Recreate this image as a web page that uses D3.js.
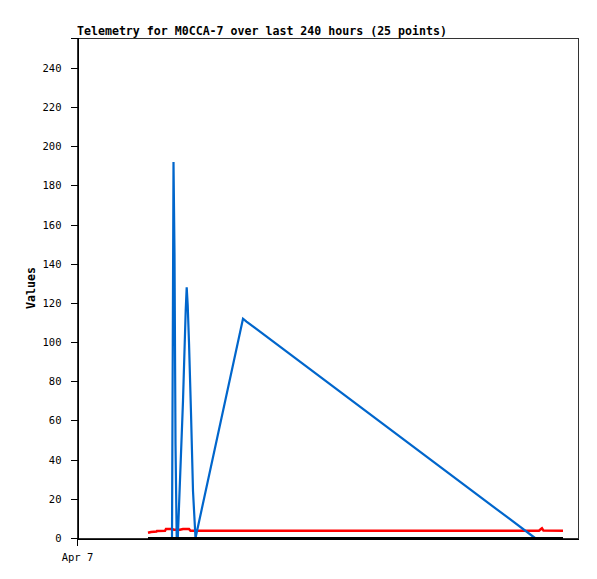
<!DOCTYPE html>
<html>
<head>
<meta charset="utf-8">
<script src="https://cdn.jsdelivr.net/npm/d3@7"></script>
<style>
  html, body { margin: 0; padding: 0; background: #fff; }
  svg { display: block; }
</style>
</head>
<body>
<svg id="chart" width="597" height="579"></svg>
<script>
// ---- data (x in hours since start of the 240-hour window) ----
const titleText = "Telemetry for M0CCA-7 over last 240 hours (25 points)";
const yLabel = "Values";
const xTickHours = [0];
const xTickLabels = ["Apr 7"];
const yTicks = [0, 20, 40, 60, 80, 100, 120, 140, 160, 180, 200, 220, 240];

const blueHours  = [45.51, 46.23, 46.71, 47.19, 47.76, 48.29, 50.78, 52.07, 52.55, 53.03, 53.65, 54.61, 55.57, 56.77, 79.52, 81.2, 219.4];
const blueValues = [0, 192, 145, 48, 0, 0, 70, 116, 128, 119, 100, 64, 24, 0, 112, 110.5, 0];

const redHours  = [34.01, 35.45, 38.08, 38.32, 42.16, 42.63, 45.51, 46.47, 49.34, 50.78, 53.65, 54.37, 221.32, 222.27, 222.75, 223.47, 232.81];
const redValues = [2.7, 3.1, 3.3, 3.6, 3.7, 4.6, 4.6, 4.2, 4.2, 4.6, 4.6, 3.7, 3.7, 4.6, 5.0, 3.8, 3.7];

const blackHours  = [34.01, 232.81];
const blackValues = [0, 0];

const xDomain = [0, 240];
const yMax = 255.3;

(function () {
// ---- layout ----
const mLeft = 77, mRight = 578, mTop = 38, mBottom = 538;
const svg = d3.select("#chart");
const mono = "'DejaVu Sans Mono', 'Liberation Mono', monospace";

const x = d3.scaleLinear().domain(xDomain).range([mLeft, mRight]);
const y = d3.scaleLinear().domain([0, yMax]).range([mBottom, mTop]);

// title
svg.append("text")
  .attr("x", mLeft).attr("y", 35)
  .attr("font-family", mono).attr("font-size", 11.6).attr("font-weight", "bold")
  .attr("fill", "#000")
  .text(titleText);

// y label
svg.append("text")
  .attr("transform", `translate(35,288) rotate(-90)`)
  .attr("text-anchor", "middle")
  .attr("font-family", mono).attr("font-size", 11.6).attr("font-weight", "bold")
  .attr("fill", "#000")
  .text(yLabel);

// frame
svg.append("rect")
  .attr("x", mLeft + 0.5).attr("y", mTop + 0.5)
  .attr("width", mRight - mLeft).attr("height", mBottom - mTop)
  .attr("fill", "none").attr("stroke", "#333").attr("stroke-width", 1)
  .attr("shape-rendering", "crispEdges");

// y axis
const yAxis = d3.axisLeft(y).tickValues(yTicks).tickSize(7).tickPadding(9);
const gy = svg.append("g").attr("transform", `translate(${mLeft + 0.5},0)`).call(yAxis);
gy.select(".domain").attr("stroke", "#000").attr("shape-rendering", "crispEdges");
gy.selectAll(".tick line").attr("stroke", "#000").attr("shape-rendering", "crispEdges");
gy.selectAll(".tick text").attr("font-family", mono).attr("font-size", 10.5).attr("fill", "#000");

// x axis
const xAxis = d3.axisBottom(x).tickValues(xTickHours)
  .tickFormat((d, i) => xTickLabels[i]).tickSize(7).tickSizeOuter(0).tickPadding(8);
const gx = svg.append("g").attr("transform", `translate(0,${mBottom + 0.5})`).call(xAxis);
gx.select(".domain").attr("stroke", "#000").attr("shape-rendering", "crispEdges");
gx.selectAll(".tick line").attr("stroke", "#000").attr("shape-rendering", "crispEdges");
gx.selectAll(".tick text").attr("font-family", mono).attr("font-size", 10.5).attr("fill", "#000");

// series
const line = d3.line().x(d => x(d[0])).y(d => y(d[1]));
function series(hours, values, color, width) {
  svg.append("path")
    .datum(hours.map((h, i) => [h, values[i]]))
    .attr("d", line)
    .attr("fill", "none")
    .attr("stroke", color)
    .attr("stroke-width", width)
    .attr("stroke-linejoin", "miter");
}
series(redHours, redValues, "#ff0000", 2.5);
series(blueHours, blueValues, "#0066cc", 2.2);
series(blackHours, blackValues, "#000000", 2);
})();
</script>
</body>
</html>
